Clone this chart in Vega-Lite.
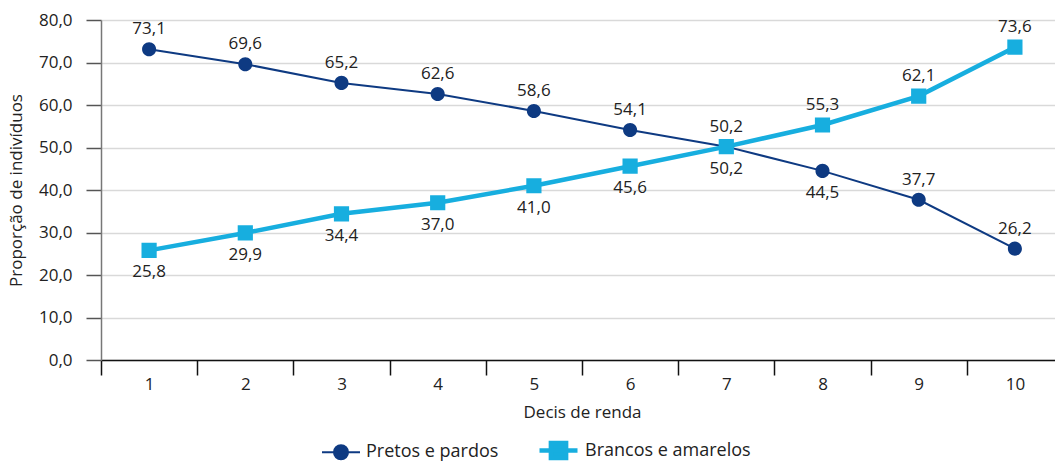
{
  "$schema": "https://vega.github.io/schema/vega-lite/v6.json",
  "width": 962,
  "height": 340,
  "autosize": {"type": "none"},
  "padding": {"left": 101, "top": 20, "right": 0, "bottom": 101},
  "config": {
    "locale": {"number": {"decimal": ",", "thousands": ".", "grouping": [3], "currency": ["", ""]}},
    "view": {"stroke": null},
    "font": "Open Sans"
  },
  "data": {
    "values": [
      {"decil": 1, "grupo": "Pretos e pardos", "valor": 73.1},
      {"decil": 2, "grupo": "Pretos e pardos", "valor": 69.6},
      {"decil": 3, "grupo": "Pretos e pardos", "valor": 65.2},
      {"decil": 4, "grupo": "Pretos e pardos", "valor": 62.6},
      {"decil": 5, "grupo": "Pretos e pardos", "valor": 58.6},
      {"decil": 6, "grupo": "Pretos e pardos", "valor": 54.1},
      {"decil": 7, "grupo": "Pretos e pardos", "valor": 50.2},
      {"decil": 8, "grupo": "Pretos e pardos", "valor": 44.5},
      {"decil": 9, "grupo": "Pretos e pardos", "valor": 37.7},
      {"decil": 10, "grupo": "Pretos e pardos", "valor": 26.2},
      {"decil": 1, "grupo": "Brancos e amarelos", "valor": 25.8},
      {"decil": 2, "grupo": "Brancos e amarelos", "valor": 29.9},
      {"decil": 3, "grupo": "Brancos e amarelos", "valor": 34.4},
      {"decil": 4, "grupo": "Brancos e amarelos", "valor": 37.0},
      {"decil": 5, "grupo": "Brancos e amarelos", "valor": 41.0},
      {"decil": 6, "grupo": "Brancos e amarelos", "valor": 45.6},
      {"decil": 7, "grupo": "Brancos e amarelos", "valor": 50.2},
      {"decil": 8, "grupo": "Brancos e amarelos", "valor": 55.3},
      {"decil": 9, "grupo": "Brancos e amarelos", "valor": 62.1},
      {"decil": 10, "grupo": "Brancos e amarelos", "valor": 73.6}
    ]
  },
  "encoding": {
    "x": {
      "field": "decil", "type": "ordinal",
      "scale": {"paddingInner": 0, "paddingOuter": 0},
      "axis": {
        "title": "Decis de renda", "titleFontSize": 17, "titleFontWeight": "normal", "titleColor": "#222", "titlePadding": 12,
        "labelAngle": 0, "labelFontSize": 17, "labelColor": "#222", "labelPadding": 1,
        "tickBand": "extent", "tickSize": 15, "tickColor": "#111", "tickWidth": 1.5,
        "domainColor": "#111", "domainWidth": 1.5, "grid": false
      }
    },
    "y": {
      "field": "valor", "type": "quantitative",
      "scale": {"domain": [0, 80]},
      "axis": {
        "title": "Proporção de indivíduos", "titleFontSize": 17, "titleFontWeight": "normal", "titleColor": "#222", "titlePadding": 13,
        "values": [0, 10, 20, 30, 40, 50, 60, 70, 80], "format": ".1f",
        "labelFontSize": 17, "labelColor": "#222", "labelPadding": 14,
        "tickSize": 15, "tickColor": "#555", "tickWidth": 1.5,
        "domainColor": "#777", "domainWidth": 1.5,
        "grid": true, "gridColor": "#d9d9d9", "gridWidth": 1.5
      }
    }
  },
  "layer": [
    {
      "mark": {"type": "line"},
      "encoding": {
        "color": {
          "field": "grupo", "type": "nominal",
          "scale": {"domain": ["Pretos e pardos", "Brancos e amarelos"], "range": ["#0e3a82", "#17aedf"]},
          "legend": {
            "orient": "none", "legendX": 220, "legendY": 409, "direction": "horizontal", "title": null,
            "labelFontSize": 18, "labelLimit": 400, "labelColor": "#222", "symbolSize": 1444, "columnPadding": 31, "labelOffset": 5,
            "encode": {"symbols": {"update": {"stroke": {"scale": "color", "field": "value"}}}}
          }
        },
        "strokeWidth": {
          "field": "grupo", "type": "nominal",
          "scale": {"domain": ["Pretos e pardos", "Brancos e amarelos"], "range": [2, 4.5]}
        }
      }
    },
    {
      "mark": {"type": "point", "filled": true, "opacity": 1, "size": 1444, "strokeWidth": 0},
      "encoding": {
        "color": {"field": "grupo", "type": "nominal"},
        "shape": {
          "field": "grupo", "type": "nominal",
          "scale": {
            "domain": ["Pretos e pardos", "Brancos e amarelos"],
            "range": [
              "M0,-0.5M0,0.5M-1,0H1M0.37,0A0.37,0.37,0,1,1,-0.37,0A0.37,0.37,0,1,1,0.37,0Z",
              "M0,-0.5M0,0.5M-1,0H1M-0.4,-0.4H0.4V0.4H-0.4Z"
            ]
          }
        }
      }
    },
    {
      "transform": [{"filter": "(datum.grupo == 'Pretos e pardos' && datum.decil != 7 && datum.decil != 8) || (datum.grupo == 'Brancos e amarelos' && datum.decil >= 7)"}],
      "mark": {"type": "text", "dy": -20, "fontSize": 17, "color": "#222"},
      "encoding": {"text": {"field": "valor", "type": "quantitative", "format": ".1f"}}
    },
    {
      "transform": [{"filter": "!((datum.grupo == 'Pretos e pardos' && datum.decil != 7 && datum.decil != 8) || (datum.grupo == 'Brancos e amarelos' && datum.decil >= 7))"}],
      "mark": {"type": "text", "dy": 22, "fontSize": 17, "color": "#222"},
      "encoding": {"text": {"field": "valor", "type": "quantitative", "format": ".1f"}}
    }
  ]
}
